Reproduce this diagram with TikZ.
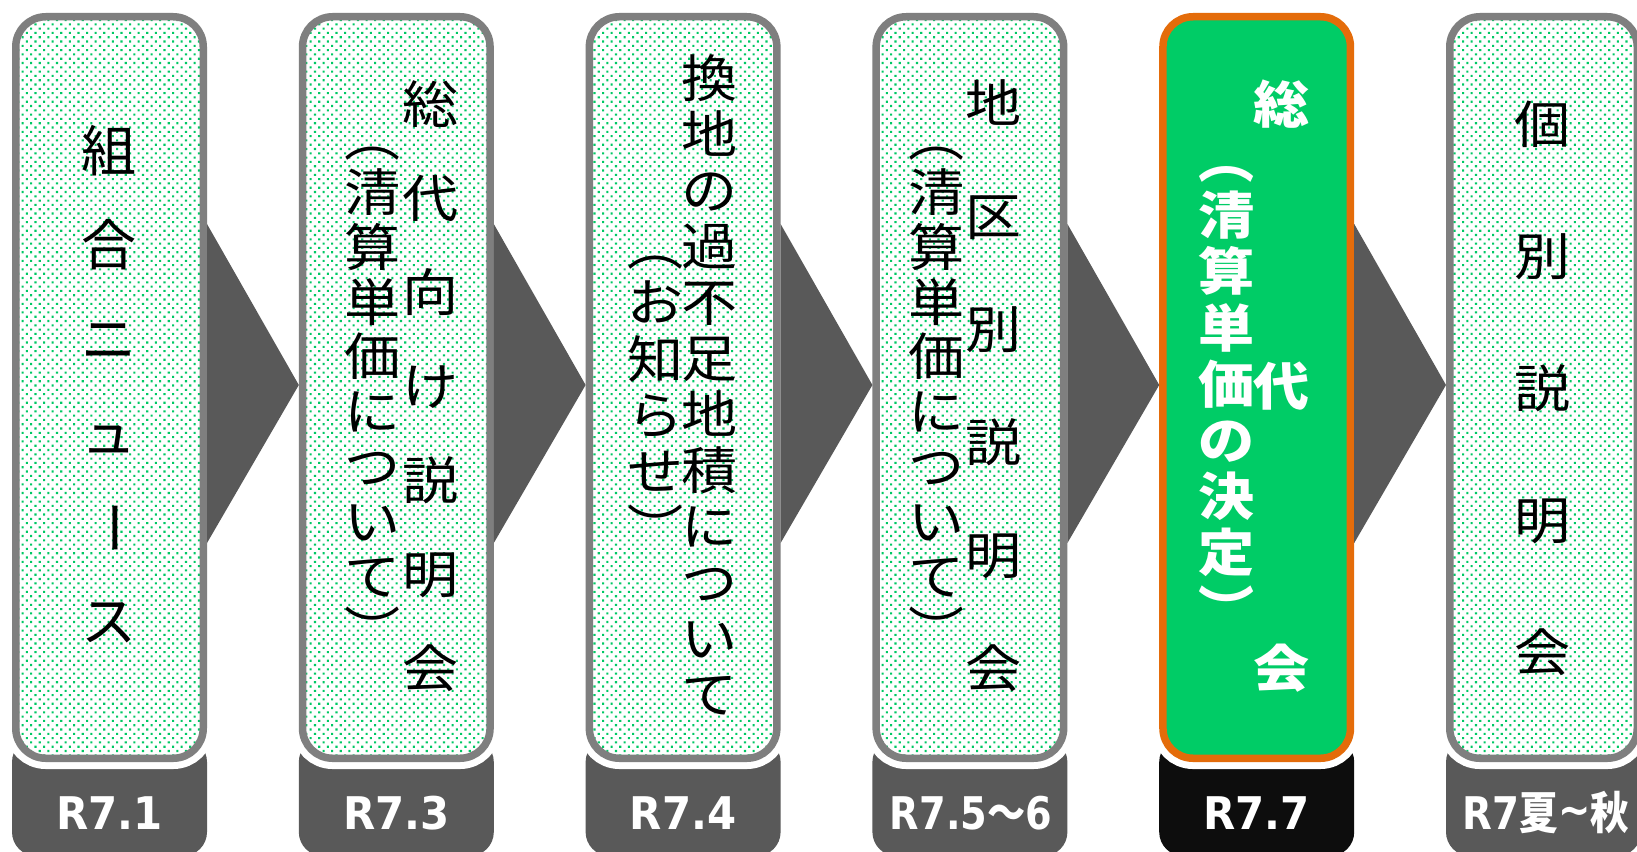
\documentclass[tikz,border=0pt]{standalone}
\usepackage{fontspec}
\setmainfont{DejaVu Sans}
\newfontfamily\jpA{Noto Sans CJK JP}
\newfontfamily\jpS[FakeStretch=1.1]{Noto Sans CJK JP}
\newfontfamily\jpB{Noto Sans CJK JP}
\usetikzlibrary{patterns,calc,backgrounds}
\definecolor{boxgray}{HTML}{7F7F7F}
\definecolor{tabgray}{HTML}{595959}
\definecolor{tabblack}{HTML}{0D0D0D}
\definecolor{dotgreen}{HTML}{00C864}
\definecolor{mygreen}{HTML}{00CC66}
\definecolor{myorange}{HTML}{E46C0A}
\pgfdeclarepatternformonly{gdots}{\pgfqpoint{-1pt}{-1pt}}{\pgfqpoint{9.6pt}{9.6pt}}{\pgfqpoint{8.6pt}{8.6pt}}{%
  \pgfpathrectangle{\pgfqpoint{0pt}{0pt}}{\pgfqpoint{2.1pt}{2.1pt}}%
  \pgfpathrectangle{\pgfqpoint{4.3pt}{4.3pt}}{\pgfqpoint{2.1pt}{2.1pt}}%
  \pgfusepath{fill}}
\newcommand\vs{\rule[-.12em]{0pt}{1em}}
\newcommand\vbar{\kern31pt\rotatebox[x=0.5em,y=0.37em]{90}{ー}}
\lineskiplimit=-100pt
\lineskip=0pt
\tikzset{
  basebox/.style={rectangle, rounded corners=30pt, line width=7.5pt, inner sep=0pt,
    minimum width=187.5pt, minimum height=741.5pt,
    preaction={fill=white, draw=white, line width=21.5pt}},
  dbox/.style={basebox, draw=boxgray, pattern=gdots, pattern color=dotgreen},
  gbox/.style={basebox, draw=myorange, fill=mygreen},
  tab/.style={rectangle, rounded corners=24pt, fill=tabgray, inner sep=0pt,
    minimum width=195pt, minimum height=118pt},
  chev/.style={fill=tabgray},
  col/.style={align=center, inner sep=0pt},
  datelbl/.style={anchor=base, text=white, inner sep=0pt,
    font=\bfseries\fontsize{45}{45}\selectfont},
}
\begin{document}
\begin{tikzpicture}[x=1pt,y=-1pt]
\useasboundingbox (0,0) rectangle (1637,851);
\fill[white] (0,0) rectangle (1637,851);
% tabs
\node[tab] (t1) at (109.5,797) {};
\node[tab] (t2) at (396.3,797) {};
\node[tab] (t3) at (683.1,797) {};
\node[tab] (t4) at (969.9,797) {};
\node[tab, fill=tabblack] (t5) at (1256.7,797) {};
\node[tab] (t6) at (1543.5,797) {};
% boxes
\node[dbox] (b1) at (109.5,387.5) {};
\node[dbox] (b2) at (396.3,387.5) {};
\node[dbox] (b3) at (683.1,387.5) {};
\node[dbox] (b4) at (969.9,387.5) {};
\node[gbox] (b5) at (1256.7,387.5) {};
\node[dbox] (b6) at (1543.5,387.5) {};
% arrows
\fill[chev] (b1.east |- 0,224) -- (b2.west |- 0,385) -- (b1.east |- 0,543) -- cycle;
\fill[chev] (b2.east |- 0,224) -- (b3.west |- 0,385) -- (b2.east |- 0,543) -- cycle;
\fill[chev] (b3.east |- 0,224) -- (b4.west |- 0,385) -- (b3.east |- 0,543) -- cycle;
\fill[chev] (b4.east |- 0,224) -- (b5.west |- 0,385) -- (b4.east |- 0,543) -- cycle;
\fill[chev] (b5.east |- 0,224) -- (b6.west |- 0,385) -- (b5.east |- 0,543) -- cycle;
% texts
\node[col, font=\jpA\fontsize{55}{94}\selectfont] (c1) at (109,386)
  {\vs 組\\合\\ニ\\ュ\\\vbar\\ス\vs};
\node[col, font=\jpS\fontsize{51}{94}\selectfont] (c2r) at (431,386)
  {\vs 総\\代\\向\\け\\説\\明\\会\vs};
\node[col, font=\jpS\fontsize{51}{54.8}\selectfont] (c2l) at (373,384)
  {\vs ︵\\清\\算\\単\\価\\に\\つ\\い\\て\\︶\vs};
\node[col, font=\jpS\fontsize{51}{56}\selectfont] (c3r) at (710,386)
  {\vs 換\\地\\の\\過\\不\\足\\地\\積\\に\\つ\\い\\て\vs};
\node[col, font=\jpS\fontsize{51}{56.4}\selectfont] (c3l) at (656,387)
  {\vs ︵\\お\\知\\ら\\せ\\︶\vs};
\node[col, font=\jpS\fontsize{51}{113}\selectfont] (c4r) at (994,386)
  {\vs 地\\区\\別\\説\\明\\会\vs};
\node[col, font=\jpS\fontsize{51}{54.8}\selectfont] (c4l) at (936.5,384)
  {\vs ︵\\清\\算\\単\\価\\に\\つ\\い\\て\\︶\vs};
\node[col, text=white, font=\jpS\bfseries\fontsize{51}{282}\selectfont] (c5r) at (1282,386)
  {\vs 総\\代\\会\vs};
\node[col, text=white, font=\jpS\bfseries\fontsize{51}{56.2}\selectfont] (c5l) at (1227,384)
  {\vs ︵\\清\\算\\単\\価\\の\\決\\定\\︶\vs};
\node[col, font=\jpS\fontsize{51}{132}\selectfont] (c6) at (1543,388)
  {\vs 個\\別\\説\\明\\会\vs};
% dates
\node[datelbl] (d1) at (109.5,829) {\scalebox{0.93}[1]{R7.1}};
\node[datelbl] (d2) at (396.3,829) {\scalebox{0.93}[1]{R7.3}};
\node[datelbl] (d3) at (683.1,829) {\scalebox{0.93}[1]{R7.4}};
\node[datelbl] (d4) at (971,829) {\scalebox{0.85}[1]{R7.5{\jpB\bfseries ～}6}};
\node[datelbl] (d5) at (1256.7,829) {\scalebox{0.93}[1]{R7.7}};
\node[datelbl] (d6) at (1546,829) {\scalebox{0.86}[1]{R7{\jpB\bfseries 夏}\raisebox{0.08em}{\~{}}{\jpB\bfseries 秋}}};
\end{tikzpicture}
\end{document}
